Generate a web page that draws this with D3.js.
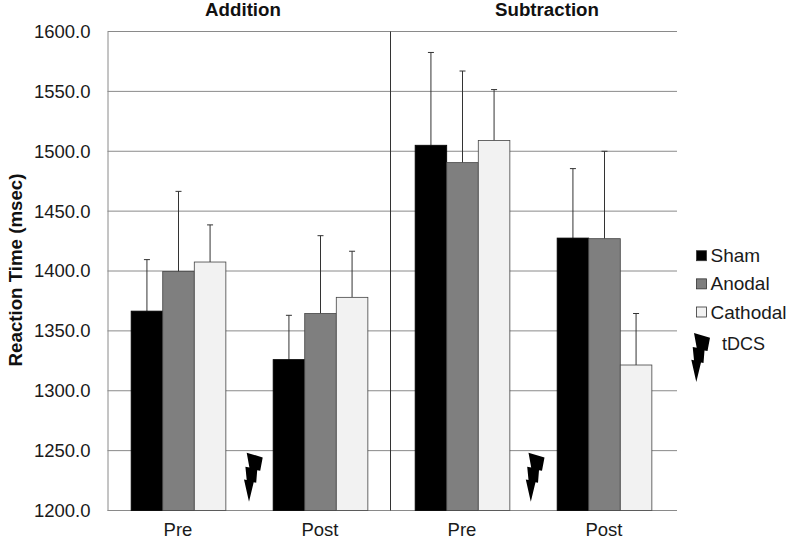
<!DOCTYPE html>
<html><head><meta charset="utf-8">
<script src="https://cdn.jsdelivr.net/npm/d3@7"></script>
<style>html,body{margin:0;background:#fff}svg{display:block;font-family:"Liberation Sans",Arial,sans-serif}</style>
</head><body><svg id="c" width="788" height="540"></svg>
<script>
const panels = ["Addition", "Subtraction"];
const categories = ["Pre", "Post", "Pre", "Post"];
const seriesNames = ["Sham", "Anodal", "Cathodal"];
const sham = [1366.5, 1326, 1505, 1427.5];
const anodal = [1399.5, 1364.5, 1490.5, 1427];
const cathodal = [1407.5, 1378, 1509, 1321.5];
const shamErr = [1409.5, 1363, 1582.5, 1485.5];
const anodalErr = [1466.5, 1429.5, 1567, 1500];
const cathodalErr = [1438.5, 1416.5, 1551.5, 1364.5];
const yTicks = [1200, 1250, 1300, 1350, 1400, 1450, 1500, 1550, 1600];
const colors = ["#000000", "#7f7f7f", "#f2f2f2"];

const svg = d3.select("#c");
const L = 107.5, R = 675.5, T = 31.5, B = 510.5, gridEnd = 677;
const y = d3.scaleLinear().domain([1200, 1600]).range([B, T]);
const x0 = d3.scaleBand().domain(d3.range(4)).range([L, R]);
const x1 = d3.scaleBand().domain(d3.range(3)).range([x0.bandwidth()*0.1665, x0.bandwidth()*0.8335]);

// gridlines and axes
svg.append("g").selectAll("line").data(yTicks).join("line")
  .attr("x1", L).attr("x2", gridEnd).attr("y1", d => y(d)).attr("y2", d => y(d))
  .attr("stroke", "#8a8a8a").attr("stroke-width", 1);
const yAxis = d3.axisLeft(y).tickValues(yTicks).tickSize(0).tickPadding(17).tickFormat(d3.format(".1f"));
const gy = svg.append("g").attr("transform", `translate(${L},0)`).call(yAxis);
gy.select(".domain").attr("stroke", "#8a8a8a");
gy.selectAll("text").attr("font-size", 18.5).attr("fill", "#1a1a1a");

// panel divider
svg.append("line").attr("x1", x0(2) - 1).attr("x2", x0(2) - 1).attr("y1", T).attr("y2", B)
  .attr("stroke", "#333").attr("stroke-width", 1);

const all = [sham, anodal, cathodal], errs = [shamErr, anodalErr, cathodalErr];
all.forEach((vals, s) => {
  const g = svg.append("g");
  // error bars
  g.selectAll("path.e").data(vals).join("path").attr("class", "e")
    .attr("d", (d, i) => {
      const cx = x0(i) + x1(s) + x1.bandwidth()/2;
      return `M${cx},${y(d)}V${y(errs[s][i])}M${cx-3},${y(errs[s][i])}H${cx+3}`;
    })
    .attr("fill", "none").attr("stroke", "#333").attr("stroke-width", 1);
  g.selectAll("rect").data(vals).join("rect")
    .attr("x", (d, i) => x0(i) + x1(s))
    .attr("width", x1.bandwidth())
    .attr("y", d => y(d))
    .attr("height", d => y(1200) - y(d))
    .attr("fill", colors[s]).attr("stroke", s === 0 ? "#000" : "#444").attr("stroke-width", 0.8);
});

// x labels
svg.append("g").selectAll("text").data(categories).join("text")
  .attr("x", (d, i) => x0(i) + x0.bandwidth()/2 - 0.5).attr("y", 536)
  .attr("text-anchor", "middle").attr("font-size", 18.5).attr("fill", "#1a1a1a").text(d => d);

// panel titles
svg.append("g").selectAll("text").data(panels).join("text")
  .attr("x", (d, i) => [243, 547][i]).attr("y", 16)
  .attr("text-anchor", "middle").attr("font-size", 18.7).attr("font-weight", "bold").attr("fill", "#111").text(d => d);

// y title
svg.append("text").attr("transform", "translate(21.5,270) rotate(-90)")
  .attr("text-anchor", "middle").attr("font-size", 18.7).attr("font-weight", "bold").attr("fill", "#111")
  .text("Reaction Time (msec)");

// legend
const legY = d3.scalePoint().domain(seriesNames).range([255.7, 312]);
const leg = svg.append("g").selectAll("g").data(seriesNames).join("g")
  .attr("transform", d => `translate(696.5,${legY(d)})`);
leg.append("rect").attr("x", 0).attr("y", -5).attr("width", 10).attr("height", 10)
  .attr("fill", (d, i) => colors[i]).attr("stroke", "#333").attr("stroke-width", 0.8);
leg.append("text").attr("x", 14).attr("y", 6.5).attr("font-size", 19).attr("fill", "#1a1a1a").text(d => d);
svg.append("text").attr("x", 722).attr("y", 350).attr("font-size", 18).attr("fill", "#1a1a1a").text("tDCS");

// lightning symbols
const bolt = "M0,0 L16,4.7 L13.5,18 L10.5,17.5 L9.5,30 L7,29.5 L2.3,49 L-2.7,26.7 L0,27.3 L-1.3,14 L2.7,14.7 Z";
[[246.7, 452.7], [528.5, 452.7], [694, 333]].forEach(p => {
  svg.append("path").attr("d", bolt).attr("transform", `translate(${p[0]},${p[1]})`).attr("fill", "#000");
});
</script></body></html>
